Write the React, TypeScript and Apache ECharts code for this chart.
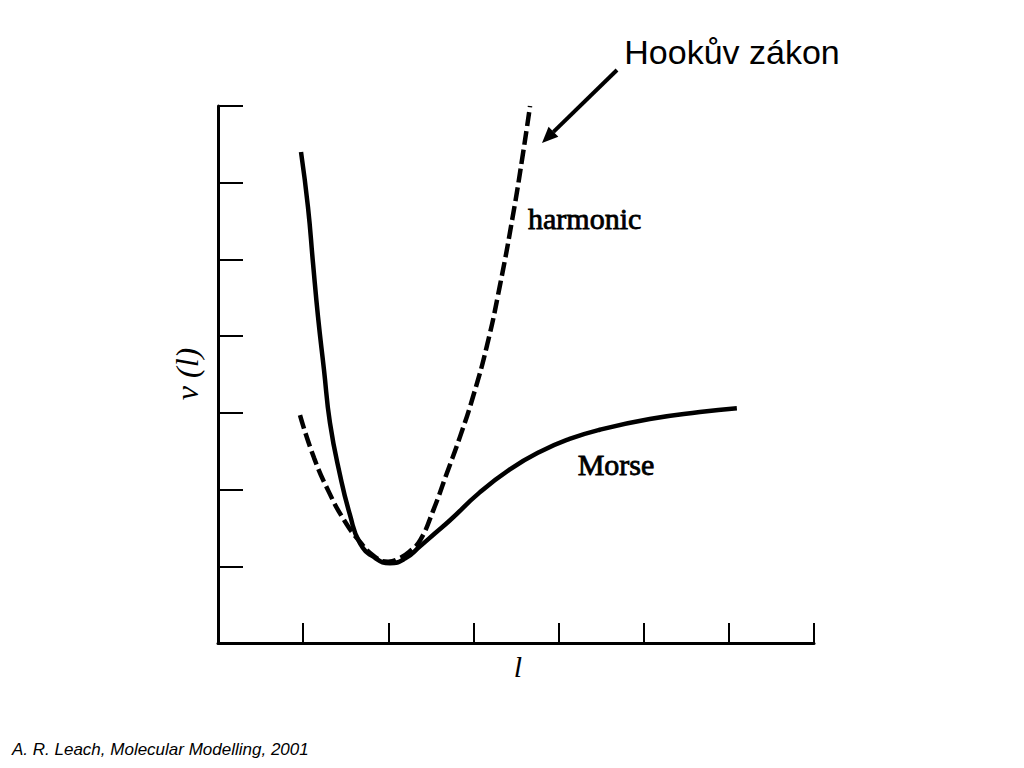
import React, { useEffect, useRef } from "react";
import * as echarts from "echarts";

// Morse potential curve (solid), [l, v(l)]
const morseL = [0.975, 1.057, 1.116, 1.175, 1.245, 1.315, 1.433, 1.55, 1.668, 1.844, 2.02, 2.196, 2.373, 2.549, 2.725, 3.071, 3.424, 3.776, 4.129, 4.482, 5.071, 5.659, 6.094];
const morseV = [6.4, 5.68, 4.95, 4.25, 3.56, 2.87, 2.19, 1.67, 1.3, 1.11, 1.04, 1.1, 1.26, 1.43, 1.6, 1.96, 2.26, 2.49, 2.66, 2.78, 2.92, 3.01, 3.06];

// Harmonic potential curve (dashed)
const harmL = [0.963, 1.129, 1.306, 1.482, 1.659, 1.835, 1.998, 2.139, 2.257, 2.375, 2.525, 2.69, 2.843, 2.995, 3.16, 3.313, 3.465, 3.571, 3.665];
const harmV = [2.97, 2.41, 1.96, 1.6, 1.33, 1.13, 1.06, 1.11, 1.2, 1.34, 1.72, 2.22, 2.69, 3.21, 3.88, 4.67, 5.58, 6.3, 7.0];

const xTicks = [0, 1, 2, 3, 4, 5, 6, 7];
const yTicks = [0, 1, 2, 3, 4, 5, 6, 7];

const labels = {
  title: "Hookův zákon",
  harmonic: "harmonic",
  morse: "Morse",
  xName: "l",
  yName: "v (l)",
  source: "A. R. Leach, Molecular Modelling, 2001",
};

export default function App() {
  const ref = useRef<HTMLDivElement>(null);
  useEffect(() => {
    if (!ref.current) return;
    const chart = echarts.init(ref.current, undefined, { renderer: "svg" });
    const ax = {
      axisLine: { show: true, lineStyle: { color: "#000", width: 3 } },
      axisTick: { show: true, inside: true, lineStyle: { color: "#000", width: 2 } },
      axisLabel: { show: false },
      splitLine: { show: false },
    };
    const tip = [542, 143];
    const ux = -0.716, uy = 0.698;
    const hl = 16, hw = 7;
    const bx = tip[0] - ux * hl, by = tip[1] - uy * hl;
    chart.setOption({
      animation: false,
      backgroundColor: "#fff",
      grid: { left: 218, top: 106, width: 596, height: 537 },
      xAxis: {
        type: "value",
        min: xTicks[0],
        max: xTicks[xTicks.length - 1],
        interval: 1,
        ...ax,
        axisTick: { ...ax.axisTick, length: 20 },
      },
      yAxis: {
        type: "value",
        min: yTicks[0],
        max: yTicks[yTicks.length - 1],
        interval: 1,
        ...ax,
        axisTick: { ...ax.axisTick, length: 25 },
      },
      series: [
        {
          type: "line",
          data: morseL.map((l, i) => [l, morseV[i]]),
          showSymbol: false,
          smooth: 0.5,
          lineStyle: { color: "#000", width: 4.5 },
        },
        {
          type: "line",
          data: harmL.map((l, i) => [l, harmV[i]]),
          showSymbol: false,
          smooth: 0.5,
          lineStyle: { color: "#000", width: 4.5, type: [14, 5] },
        },
      ],
      graphic: [
        {
          type: "text",
          x: 732,
          y: 52,
          style: { text: labels.title, font: "34px 'Liberation Sans', Arial, sans-serif", fill: "#000", align: "center", verticalAlign: "middle" },
        },
        {
          type: "line",
          shape: { x1: 617, y1: 70, x2: bx, y2: by },
          style: { stroke: "#000", lineWidth: 4 },
        },
        {
          type: "polygon",
          shape: {
            points: [
              [tip[0], tip[1]],
              [bx + uy * hw, by - ux * hw],
              [bx - uy * hw, by + ux * hw],
            ],
          },
          style: { fill: "#000" },
        },
        {
          type: "text",
          x: 528,
          y: 218,
          style: { text: labels.harmonic, font: "30px 'Liberation Serif', 'Times New Roman', serif", fill: "#000", stroke: "#000", lineWidth: 0.8, align: "left", verticalAlign: "middle" },
        },
        {
          type: "text",
          x: 616,
          y: 464,
          style: { text: labels.morse, font: "30px 'Liberation Serif', 'Times New Roman', serif", fill: "#000", stroke: "#000", lineWidth: 0.8, align: "center", verticalAlign: "middle" },
        },
        {
          type: "text",
          x: 518,
          y: 666,
          style: { text: labels.xName, font: "italic 30px 'Liberation Serif', 'Times New Roman', serif", fill: "#000", align: "center", verticalAlign: "middle" },
        },
        {
          type: "text",
          x: 187,
          y: 374,
          rotation: Math.PI / 2,
          style: { text: labels.yName, font: "italic 32px 'Liberation Serif', 'Times New Roman', serif", fill: "#000", align: "center", verticalAlign: "middle" },
        },
        {
          type: "text",
          x: 12,
          y: 749,
          style: { text: labels.source, font: "italic 17px 'Liberation Sans', Arial, sans-serif", fill: "#000", align: "left", verticalAlign: "middle" },
        },
      ],
    });
    return () => chart.dispose();
  }, []);
  return <div ref={ref} style={{ position: "fixed", left: 0, top: 0, width: 1024, height: 768 }} />;
}
